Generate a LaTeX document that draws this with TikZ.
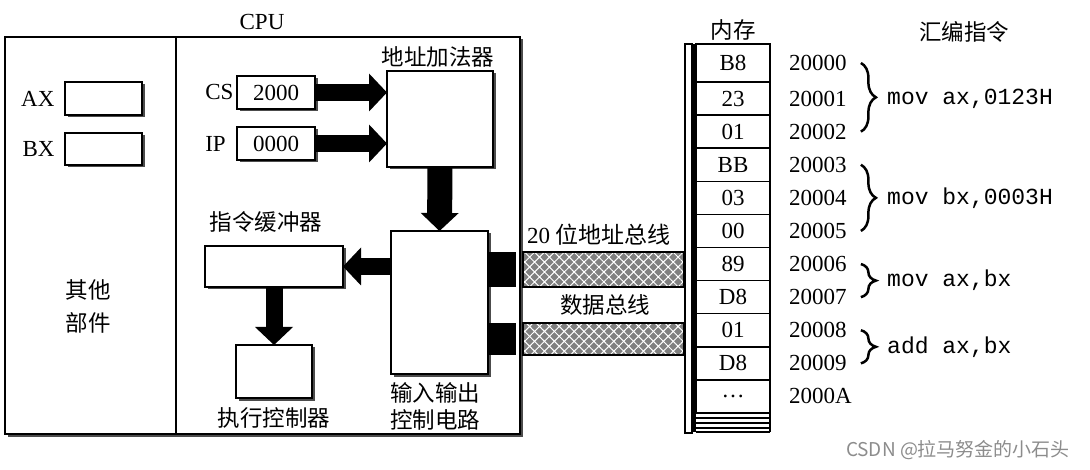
\documentclass[tikz,border=0pt]{standalone}
\usepackage{fontspec}
\setmainfont{Liberation Serif}
\setmonofont{Liberation Mono}
\newfontfamily\cjk{Noto Sans CJK SC}
\usetikzlibrary{positioning,calc,arrows.meta,shadows,patterns.meta,decorations.pathreplacing}
\tikzset{
  box/.style={draw, line width=1.5pt, fill=white, inner sep=0pt, outer sep=0pt,
    drop shadow={shadow xshift=2.5pt, shadow yshift=-2.5pt, fill=black!70, opacity=1}},
  fatarrow/.style={line width=17pt, -{Triangle[width=38pt,length=18pt,line width=0pt]}},
  bus/.style={fill=black!50, inner sep=0pt, outer sep=0pt,
    postaction={pattern={Hatch[angle=45,distance=7pt,line width=1pt]}, pattern color=white},
    postaction={draw, line width=1.5pt}},
  cell/.style={draw, line width=1.5pt, minimum width=74pt, minimum height=33.1pt, inner sep=0pt, outer sep=0pt},
  zh/.style={font=\cjk\fontsize{22.5}{27}\selectfont},
  addr/.style={anchor=west, inner sep=0pt},
  code/.style={anchor=west, inner sep=0pt, font=\ttfamily\fontsize{23}{26}\selectfont},
  grp/.style={decorate, decoration={brace, amplitude=15pt}, line width=2.5pt},
}
\begin{document}
\begin{tikzpicture}[x=1pt,y=-1pt,font=\fontsize{23}{26}\selectfont]
\useasboundingbox (0,0) rectangle (1090,470);
% CPU frame
\node[box, minimum width=515pt, minimum height=397pt] (cpu) at (262.5,235.5) {};
\node (cputxt) at (262,22) {CPU};
\draw[line width=1.5pt] (cpu.north west -| 176,0) -- (cpu.south west -| 176,0);
% other parts
\node[box, minimum width=77pt, minimum height=33pt] (ax) at (103.5,98.5) {};
\node[box, minimum width=77pt, minimum height=32pt] (bx) at (103.5,149) {};
\node[left=7pt of ax] (axtxt) {AX};
\node[left=7pt of bx] (bxtxt) {BX};
\node[zh, align=center, font=\cjk\fontsize{22.5}{33}\selectfont] (other) at (88,306) {其他\\部件};
% segment registers and adder
\node[box, minimum width=78pt, minimum height=33pt] (cs) at (276,92.5) {2000};
\node[box, minimum width=78pt, minimum height=33pt] (ip) at (276,143.5) {0000};
\node[left=0pt of cs] (cstxt) {CS};
\node[anchor=west] (iptxt) at (cstxt.west |- ip) {IP};
\node[box, minimum width=106pt, minimum height=96pt] (adder) at (440,119) {};
\node[zh] (addertxt) at (438,57) {地址加法器};
% io, buffer, execution
\node[box, minimum width=97pt, minimum height=143pt] (io) at (439.5,302.5) {};
\node[zh, align=center] (iotxt) at (435,406.5) {输入输出\\控制电路};
\node[box, minimum width=138pt, minimum height=41pt] (buf) at (274,266.5) {};
\node[zh] (buftxt) at (266,222) {指令缓冲器};
\node[box, minimum width=76pt, minimum height=53pt] (exec) at (274,371.5) {};
\node[zh] (exectxt) at (274,418) {执行控制器};
\draw[fatarrow] (cs.east) -- (cs.east -| adder.west);
\draw[fatarrow] (ip.east) -- (ip.east -| adder.west);
\draw[fatarrow, line width=25pt] (adder.south) -- (io.north);
\draw[fatarrow] (io.west |- buf) -- (buf.east);
\draw[fatarrow] (buf.south) -- (exec.north);
% buses
\node[bus, minimum width=161pt, minimum height=35pt] (abus) at (603.5,269.5) {};
\node[bus, minimum width=161pt, minimum height=32pt] (dbus) at (603.5,339) {};
\node (abustxt) at (599,235) {20 {\cjk 位地址总线}};
\node[zh] (dbustxt) at (605,305) {数据总线};
\fill (io.east |- abus.north) rectangle ([xshift=-7pt]abus.south west);
\fill (io.east |- dbus.north) rectangle ([xshift=-7pt]dbus.south west);
% memory
\draw[line width=1.2pt] (685,44) rectangle (692,433);
\draw[line width=3pt] (694.5,44) -- (694.5,432);
\node[cell, minimum height=38pt] (m1) at (733,63) {B8};
\foreach \v [count=\i from 2, evaluate=\i as \j using int(\i-1)] in {23,01,BB,03,00,89,D8,01,D8,\dots}
  \node[cell, anchor=north] (m\i) at (m\j.south) {\v};
\foreach \d in {5,10,15,19}
  \draw[line width=1.5pt] ([yshift=-\d pt]m11.south west) -- ([yshift=-\d pt]m11.south east);
\draw[line width=1.5pt] (m11.south east) -- ([yshift=-19pt]m11.south east);
\node[zh] (memtxt) at (733,30) {内存};
% addresses and instructions
\foreach \a [count=\i] in {20000,20001,20002,20003,20004,20005,20006,20007,20008,20009,2000A}
  \node[addr] (a\i) at (789,0 |- m\i) {\a};
\node[zh] (asmtxt) at (964,32) {汇编指令};
\draw[grp] ([xshift=14pt]a1.east) -- ([xshift=14pt]a3.east);
\draw[grp] ([xshift=14pt]a4.east) -- ([xshift=14pt]a6.east);
\draw[grp] ([xshift=14pt]a7.east) -- ([xshift=14pt]a8.east);
\draw[grp] ([xshift=14pt]a9.east) -- ([xshift=14pt]a10.east);
\coordinate (g3) at ($(a7)!.5!(a8)$);
\coordinate (g4) at ($(a9)!.5!(a10)$);
\node[code] (c1) at (887,0 |- a2) {mov ax,0123H};
\node[code] (c2) at (887,0 |- a5) {mov bx,0003H};
\node[code] (c3) at (887,0 |- g3) {mov ax,bx};
\node[code] (c4) at (887,0 |- g4) {add ax,bx};
\node[font=\cjk\fontsize{19}{22}\selectfont, text=black!45] (mark) at (958,450) {CSDN @拉马努金的小石头};
\end{tikzpicture}
\end{document}
